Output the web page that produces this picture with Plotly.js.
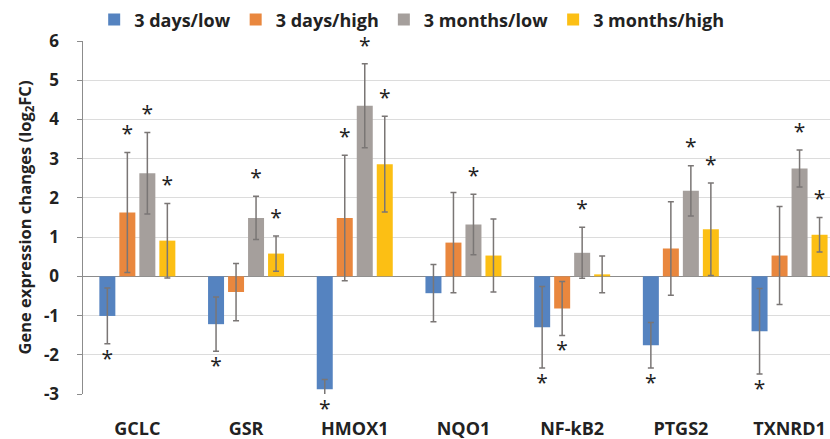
<!DOCTYPE html>
<html><head><meta charset="utf-8">
<script src="https://cdn.plot.ly/plotly-3.0.1.min.js"></script>
<style>html,body{margin:0;padding:0;background:#fff}#chart{width:830px;height:439px}</style>
</head><body><div id="chart"></div>
<script>
const categories = ['GCLC','GSR','HMOX1','NQO1','NF-kB2','PTGS2','TXNRD1'];
const seriesNames = ['3 days/low','3 days/high','3 months/low','3 months/high'];
const yTickValues = [-3, -2, -1, 0, 1, 2, 3, 4, 5, 6];
const yTickLabels = ['-3', '-2', '-1', '0', '1', '2', '3', '4', '5', '6'];

const days3Low = [-1.01, -1.22, -2.88, -0.43, -1.30, -1.76, -1.40];
const days3LowErr = [0.71, 0.69, 0.25, 0.73, 1.04, 0.58, 1.09];
const days3LowSig = [1, 1, 1, 0, 1, 1, 1];

const days3High = [1.63, -0.40, 1.49, 0.86, -0.82, 0.71, 0.53];
const days3HighErr = [1.53, 0.73, 1.60, 1.28, 0.69, 1.19, 1.25];
const days3HighSig = [1, 0, 1, 0, 1, 0, 0];

const months3Low = [2.63, 1.49, 4.35, 1.32, 0.60, 2.18, 2.75];
const months3LowErr = [1.04, 0.55, 1.07, 0.77, 0.65, 0.64, 0.47];
const months3LowSig = [1, 1, 1, 1, 1, 1, 1];

const months3High = [0.91, 0.58, 2.86, 0.53, 0.05, 1.20, 1.06];
const months3HighErr = [0.95, 0.45, 1.22, 0.93, 0.47, 1.18, 0.44];
const months3HighSig = [1, 1, 1, 0, 0, 1, 1];

const yMin = -3, yMax = 6;
const colors = ['#5583c0', '#e9873e', '#a59f9c', '#fcbf14'];
const values = [days3Low, days3High, months3Low, months3High];
const errors = [days3LowErr, days3HighErr, months3LowErr, months3HighErr];
const sigs = [days3LowSig, days3HighSig, months3LowSig, months3HighSig];

const FONT = '"Open Sans", "DejaVu Sans", sans-serif';
const traces = [];
values.forEach((vals, k) => {
  traces.push({
    type: 'bar', name: seriesNames[k], x: categories, y: vals,
    offsetgroup: String(k),
    marker: {color: colors[k], line: {width: 0}},
    error_y: {type: 'data', array: errors[k], visible: true, color: '#7a7675', thickness: 1.5, width: 3},
    hoverinfo: 'skip'
  });
});
// significance stars: anchored at the visible error-bar end, text pushed outward
values.forEach((vals, k) => {
  const xs = [], ys = [], pos = [];
  vals.forEach((v, i) => {
    if (sigs[k][i]) {
      xs.push(categories[i]);
      ys.push(v >= 0 ? Math.min(v + errors[k][i], yMax) : Math.max(v - errors[k][i], yMin));
      pos.push(v >= 0 ? 'top center' : 'bottom center');
    }
  });
  traces.push({
    type: 'scatter', mode: 'markers+text', x: xs, y: ys, text: xs.map(() => '*'),
    textposition: pos, offsetgroup: String(k), showlegend: false,
    marker: {size: 8, opacity: 0, color: '#fff'},
    cliponaxis: false, textfont: {family: FONT, size: 21, color: '#222'}, hoverinfo: 'skip'
  });
});

const layout = {
  width: 830, height: 439,
  margin: {l: 83, r: 0, t: 41, b: 45},
  paper_bgcolor: '#fff', plot_bgcolor: '#fff',
  barmode: 'group', bargap: 0.264, bargroupgap: 0.2,
  scattermode: 'group', scattergap: 0.264,
  font: {family: FONT, color: '#222'},
  showlegend: true,
  legend: {orientation: 'h', x: 0.44, xanchor: 'center', y: 1.06, yanchor: 'middle', bgcolor: 'rgba(0,0,0,0)',
    font: {family: FONT, size: 18, weight: 'bold', color: '#222'}, itemwidth: 30, traceorder: 'normal'},
  xaxis: {type: 'category', range: [-0.5, 6.372], showgrid: false, zeroline: false, showline: false,
    ticks: '', ticklabelstandoff: 22,
    tickfont: {family: FONT, size: 18, weight: 'bold', color: '#222'}},
  yaxis: {range: [yMin, yMax], tickmode: 'array', tickvals: yTickValues, ticktext: yTickLabels,
    showgrid: true, gridcolor: '#dcdcdc', gridwidth: 1,
    zeroline: true, zerolinecolor: '#8c8c8c', zerolinewidth: 1.5,
    showline: true, linecolor: '#8c8c8c', linewidth: 1.5, ticks: 'outside', ticklen: 5, tickcolor: '#8c8c8c',
    ticklabelstandoff: 14,
    tickfont: {family: FONT, size: 17, weight: 'bold', color: '#222'},
    title: {text: 'Gene expression changes (log<sub>2</sub>FC)', standoff: 8,
      font: {family: FONT, size: 16.5, weight: 'bold', color: '#222'}}}
};
Plotly.newPlot('chart', traces, layout, {displayModeBar: false, staticPlot: true});
</script></body></html>
